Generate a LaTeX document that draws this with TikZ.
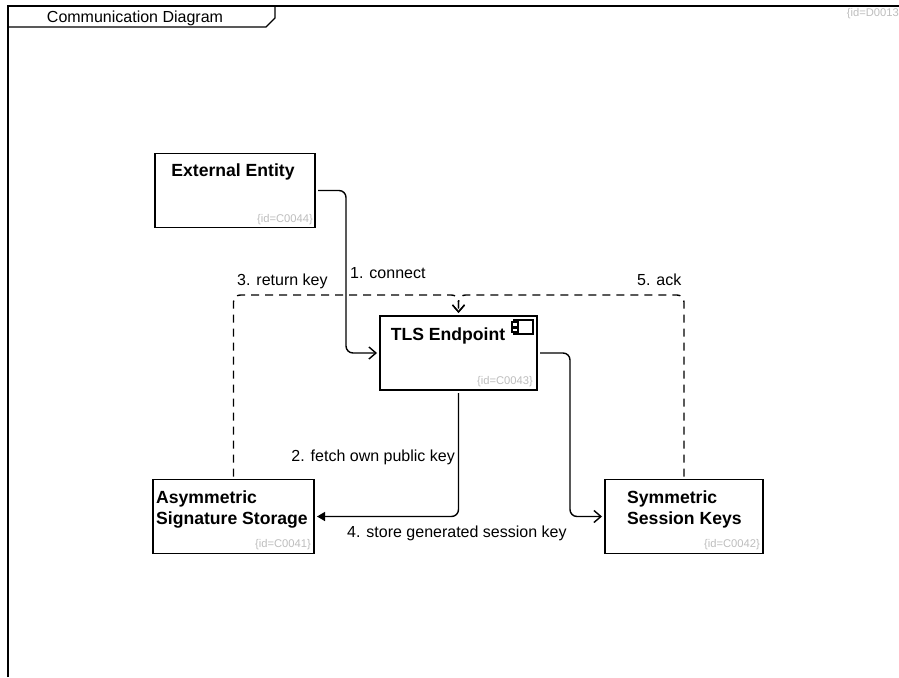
\documentclass[tikz,border=0pt]{standalone}
\usepackage{fontspec}
\setmainfont{Liberation Sans}
\usetikzlibrary{arrows.meta}
\definecolor{idgray}{HTML}{BDBDBD}
\tikzset{
	block/.style={draw, line width=1.4pt, minimum width=#1, minimum height=74pt, inner sep=0pt, outer sep=3pt},
	title/.style={font=\bfseries\fontsize{17.6}{21}\selectfont, align=left, anchor=north west, inner sep=0pt},
	idtag/.style={font=\fontsize{11.2}{13}\selectfont, text=idgray, anchor=south east, inner sep=0pt},
	msg/.style={font=\fontsize{16}{19}\selectfont, inner sep=0pt},
	link/.style={draw, line width=1.4pt, rounded corners=7pt},
	dep/.style={link, dash pattern=on 8pt off 6pt},
	open/.style={-{Straight Barb[length=7pt, width=12pt, line width=1.4pt]}},
	solid tip/.style={-{Triangle[length=8pt, width=9pt]}}
}
\begin{document}
\begin{tikzpicture}[x=1pt, y=-1pt]
	\useasboundingbox (0,0) rectangle (899,677);
	% frame
	\draw[line width=1.4pt] (8,677) -- (8,6) -- (899,6);
	\draw[line width=1.4pt] (8,27) -- (266,27) -- (275,18) -- (275,6);
	\node[msg] (frametitle) at (135,18) {Communication Diagram};
	\node[idtag, anchor=north east] (frameid) at (899,8) {\{id=D0013};
	% blocks
	\node[block=160pt] (external) at (235,190.5) {};
	\node[block=157pt] (tls) at (458.5,353) {};
	\node[block=161pt] (asym) at (233.5,516.5) {};
	\node[block=158pt] (sym) at (684,516.5) {};
	% titles
	\node[title, anchor=north] (externaltitle) at (233,164) {External Entity};
	\node[title, anchor=north] (tlstitle) at (448,328) {TLS Endpoint};
	\node[title] (asymtitle) at (156,491) {Asymmetric\\Signature Storage};
	\node[title] (symtitle) at (627,491) {Symmetric\\Session Keys};
	% ids
	\node[idtag] (externalid) at (313,225) {\{id=C0044\}};
	\node[idtag] (tlsid) at (533,387) {\{id=C0043\}};
	\node[idtag] (asymid) at (311,550) {\{id=C0041\}};
	\node[idtag] (symid) at (760,550) {\{id=C0042\}};
	% component icon
	\draw[line width=1.2pt, fill=white] (514,320) rectangle (533,334);
	\draw[line width=1.2pt, fill=white] (512,322) rectangle (518,326.5);
	\draw[line width=1.2pt, fill=white] (512,328) rectangle (518,332);
	% connectors
	\draw[link, open] (external.east) -- (346,190.5) -- (346,353) -- (tls.west);
	\draw[link, open] (tls.east) -- (570,353) -- (570,516.5) -- (sym.west);
	\draw[link, solid tip] (tls.south) -- (458.5,516.5) -- (asym.east);
	\draw[dep, open] (asym.north) -- (233.5,295) -- (458.5,295) -- (tls.north);
	\draw[dep, open] (sym.north) -- (684,295) -- (458.5,295) -- (tls.north);
	% labels
	\node[msg, anchor=west] (connect) at (350,273) {1. connect};
	\node[msg, anchor=east] (fetch) at (455,457) {2. fetch own public key};
	\node[msg, anchor=west] (returnkey) at (237,281) {3. return key};
	\node[msg, anchor=west] (store) at (347,533) {4. store generated session key};
	\node[msg, anchor=west] (ack) at (637,280) {5. ack};
\end{tikzpicture}
\end{document}
